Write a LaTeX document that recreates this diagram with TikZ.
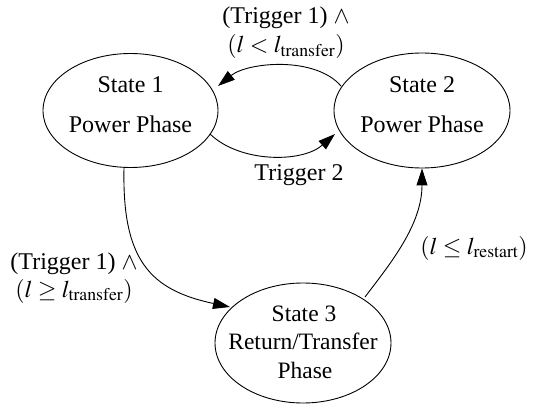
\documentclass[tikz,border=0pt]{standalone}
\usepackage{mathptmx}
\usepackage{fontspec}
\setmainfont{Liberation Serif}
\usetikzlibrary{arrows.meta,calc,shapes.geometric}
\begin{document}
\begin{tikzpicture}[x=1pt,y=-1pt,
  state/.style={draw, ellipse, line width=0.9pt, inner sep=0pt},
  txt/.style={anchor=base, inner sep=0pt, font=\fontsize{24}{28.8}\selectfont},
  smalltxt/.style={anchor=base, inner sep=0pt, font=\fontsize{23.5}{28.2}\selectfont},
  edge/.style={line width=0.9pt, -{Triangle[length=17pt,width=11pt]}}]
\useasboundingbox (0,0) rectangle (533,409);
% states
\node[state, minimum width=175pt, minimum height=114pt] (s1) at (130.5,110.5) {};
\node[state, minimum width=176pt, minimum height=115pt] (s2) at (422,110.5) {};
\node[state, minimum width=176pt, minimum height=120pt] (s3) at (303,343) {};
% state texts
\node[txt] (s1a) at (130.5,93) {State 1};
\node[txt] (s1b) at (130.5,133) {Power Phase};
\node[txt] (s2a) at (422,93) {State 2};
\node[txt] (s2b) at (422,133) {Power Phase};
\node[smalltxt] (s3a) at (304,321) {State 3};
\node[smalltxt] (s3b) at (303,349) {Return/Transfer};
\node[smalltxt] (s3c) at (305,378) {Phase};
% edge labels
\node[txt] (la1) at (286,24) {(Trigger 1) $\wedge$};
\node[txt] (la2) at (286,53) {$(l < l_{\mathrm{transfer}})$};
\node[txt] (lb) at (299,181) {Trigger 2};
\node[txt] (lc1) at (74,269) {(Trigger 1) $\wedge$};
\node[txt] (lc2) at (74,297) {$(l \geq l_{\mathrm{transfer}})$};
\node[txt] (ld) at (474,254) {$(l \leq l_{\mathrm{restart}})$};
% edges
\draw[edge] ($(s2.center)+(-81,-24.5)$) .. controls (315,56) and (248,62) .. ($(s1.center)+(87.5,-24.5)$);
\draw[edge] ($(s1.center)+(79.5,23.5)$) .. controls (240,163) and (302,163) .. ($(s2.center)+(-87,23.5)$);
\draw[edge] ($(s1.south)+(-6.5,0)$) .. controls (122,260) and (150,290) .. ($(s3.center)+(-73,-36)$);
\draw[edge] ($(s3.center)+(62,-46)$) .. controls (390,264) and (422,225) .. (s2.south);
\end{tikzpicture}
\end{document}
